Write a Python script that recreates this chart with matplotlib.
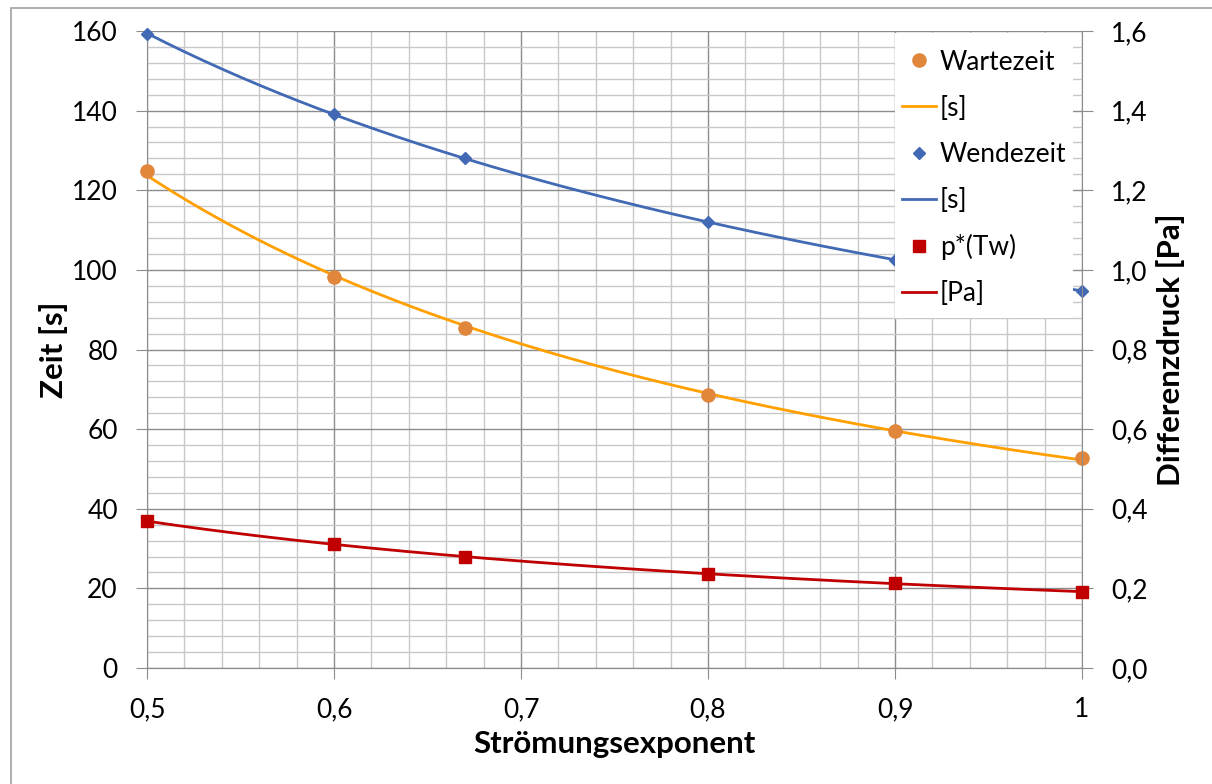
import matplotlib
matplotlib.use("Agg")
import matplotlib.pyplot as plt
from matplotlib.patches import Rectangle
from matplotlib.lines import Line2D
from matplotlib.ticker import MultipleLocator, FuncFormatter
import numpy as np

plt.rcParams['font.family'] = ['Lato', 'DejaVu Sans']

# Messwerte
exponent = [0.5, 0.6, 0.67, 0.8, 0.9, 1.0]
wartezeit = [124.8, 98.2, 85.4, 68.6, 59.5, 52.7]
wendezeit = [159.2, 139.2, 128.1, 112.0, 102.5, 94.7]
p_tw = [0.369, 0.311, 0.279, 0.236, 0.2135, 0.191]

C_WARTE_PT = '#E0873C'
C_WARTE_LN = '#FFA000'
C_WENDE = '#4169B4'
C_P = '#C00000'
GRID_MAJ = '#8C8C8C'
GRID_MIN = '#C8C8C8'
FS = 19
FS_LABEL = 22.5


def power_fit(x, y):
    # Potenz-Trendlinie y = a * x^b (Kleinste Quadrate im log-log)
    b, ln_a = np.polyfit(np.log(x), np.log(y), 1)
    xs = np.linspace(min(x), max(x), 200)
    return xs, np.exp(ln_a) * xs ** b


fig = plt.figure(figsize=(12.12, 7.84), dpi=100)
ax = fig.add_axes([147 / 1212, 1 - 668 / 784, (1082 - 147) / 1212, (668 - 31) / 784])
ax2 = ax.twinx()

# Rahmen um das Diagramm
fig.patches.append(Rectangle((11 / 1212, -0.05), 1.2, 1 - 8 / 784 + 0.05,
                             transform=fig.transFigure, fill=False,
                             ec='#A0A0A0', lw=1.2))

ax.set_xlim(0.5, 1.0)
ax.set_ylim(0, 160)
ax2.set_ylim(0, 1.6)

ax.xaxis.set_major_locator(MultipleLocator(0.1))
ax.xaxis.set_minor_locator(MultipleLocator(0.02))
ax.yaxis.set_major_locator(MultipleLocator(20))
ax.yaxis.set_minor_locator(MultipleLocator(4))
ax2.yaxis.set_major_locator(MultipleLocator(0.2))

ax.grid(which='major', color=GRID_MAJ, lw=1.0)
ax.grid(which='minor', color=GRID_MIN, lw=1.0)
ax.set_axisbelow(True)

ax.xaxis.set_major_formatter(FuncFormatter(lambda v, p: f"{v:g}".replace('.', ',')))
ax2.yaxis.set_major_formatter(FuncFormatter(lambda v, p: f"{v:.1f}".replace('.', ',')))

for a in (ax, ax2):
    for s in a.spines.values():
        s.set_color(GRID_MAJ)
    a.spines['top'].set_visible(False)
    a.tick_params(which='major', length=8, color=GRID_MAJ, labelsize=FS, pad=13)
    a.tick_params(which='minor', length=0)
ax2.spines['left'].set_visible(False)
ax.spines['right'].set_visible(False)

# Wartezeit
xs, ys = power_fit(exponent, wartezeit)
ax.plot(xs, ys, color=C_WARTE_LN, lw=2.0, zorder=3, clip_on=False)
ax.plot(exponent, wartezeit, 'o', color=C_WARTE_PT, ms=9.5, zorder=4, clip_on=False)

# Wendezeit
xs, ys = power_fit(exponent, wendezeit)
ax.plot(xs, ys, color=C_WENDE, lw=2.0, zorder=3, clip_on=False)
ax.plot(exponent, wendezeit, 'D', color=C_WENDE, ms=6.5, zorder=4, clip_on=False)

# Differenzdruck p*(Tw)
xs, ys = power_fit(exponent, p_tw)
ax2.plot(xs, ys, color=C_P, lw=2.0, zorder=3, clip_on=False)
ax2.plot(exponent, p_tw, 's', color=C_P, ms=9, zorder=4, clip_on=False)

ax.set_xlabel('Strömungsexponent', fontsize=FS_LABEL, fontweight='bold', labelpad=6)
ax.set_ylabel('Zeit [s]', fontsize=FS_LABEL, fontweight='bold', labelpad=3)
ax2.set_ylabel('Differenzdruck [Pa]', fontsize=FS_LABEL, fontweight='bold', labelpad=6)

# Legendenhintergrund (weißes Feld oben rechts im Plotbereich)
lx0 = (895 - 147) / (1082 - 147)
lx1 = (1073 - 147) / (1082 - 147)
ly0 = (668 - 318) / 637
ly1 = (668 - 33) / 637
ax2.add_patch(Rectangle((lx0, ly0), lx1 - lx0, ly1 - ly0, transform=ax2.transAxes,
                        fc='white', ec='none', zorder=9))

handles = [
    Line2D([], [], ls='none', marker='o', color=C_WARTE_PT, ms=9.5),
    Line2D([], [], color=C_WARTE_LN, lw=2.0),
    Line2D([], [], ls='none', marker='D', color=C_WENDE, ms=6.5),
    Line2D([], [], color=C_WENDE, lw=2.0),
    Line2D([], [], ls='none', marker='s', color=C_P, ms=9),
    Line2D([], [], color=C_P, lw=2.0),
]
labels = ['Wartezeit', '[s]', 'Wendezeit', '[s]', 'p*(Tw)', '[Pa]']
leg = ax2.legend(handles, labels, loc='upper left',
                 bbox_to_anchor=(lx0, (668 - 43) / 637),
                 frameon=False, fontsize=FS, handlelength=1.3,
                 handletextpad=0.15, labelspacing=0.8, borderpad=0.25,
                 borderaxespad=0)
leg.set_zorder(10)

fig.savefig('out.png', dpi=100, facecolor='white')
